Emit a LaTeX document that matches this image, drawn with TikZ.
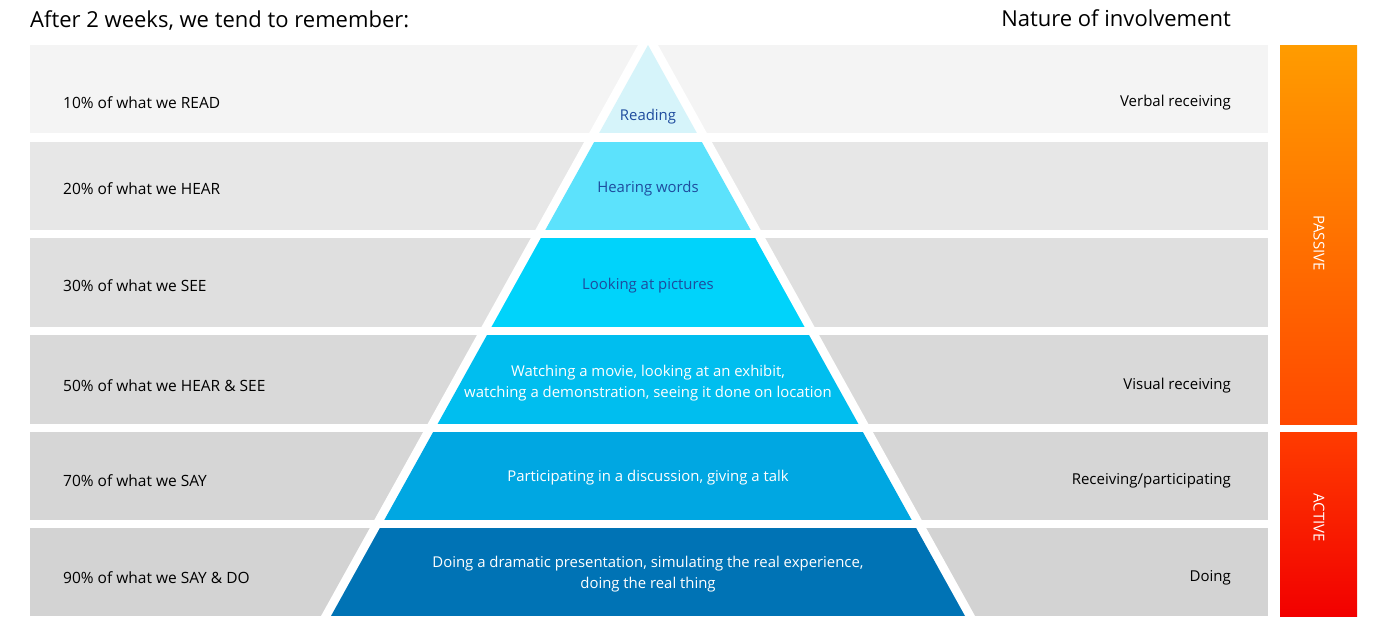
\documentclass[tikz,border=0pt]{standalone}
\usepackage{fontspec}
\setmainfont{Open Sans}
\usetikzlibrary{calc}
\definecolor{rowA}{HTML}{F4F4F4}
\definecolor{rowB}{HTML}{E7E7E7}
\definecolor{rowC}{HTML}{DFDFDF}
\definecolor{rowD}{HTML}{D9D9D9}
\definecolor{rowE}{HTML}{D6D6D6}
\definecolor{rowF}{HTML}{D3D3D3}
\definecolor{tierA}{HTML}{D6F4FA}
\definecolor{tierB}{HTML}{5CE2FC}
\definecolor{tierC}{HTML}{00D3FB}
\definecolor{tierD}{HTML}{00BEEF}
\definecolor{tierE}{HTML}{00A7E2}
\definecolor{tierF}{HTML}{0073B5}
\definecolor{darktext}{HTML}{1E4C9E}
\definecolor{passTop}{HTML}{FF9C00}
\definecolor{passMid}{HTML}{FF7800}
\definecolor{passBot}{HTML}{FF4800}
\definecolor{actTop}{HTML}{FF3C00}
\definecolor{actMid}{HTML}{F80000}
\definecolor{actBot}{HTML}{F20000}
\begin{document}
\begin{tikzpicture}[x=1pt,y=-1pt,
  label/.style={font=\fontsize{15.5}{19}\selectfont, text=black, inner sep=0pt},
  leftlab/.style={label, anchor=west},
  rightlab/.style={font=\fontsize{15}{19}\selectfont, text=black, inner sep=0pt, anchor=east},
  tiertext/.style={font=\fontsize{14.9}{20.5}\selectfont, inner sep=0pt, align=center},
  headline/.style={font=\fontsize{22}{26}\selectfont, text=black, inner sep=0pt},
  barlabel/.style={font=\fontsize{15}{18}\selectfont, text=white, inner sep=0pt, rotate=-90}]
\useasboundingbox (0,0) rectangle (1389,629);

% gray rows
\fill[rowA] (30,45)  rectangle (1268,133);
\fill[rowB] (30,142) rectangle (1268,230);
\fill[rowC] (30,238) rectangle (1268,327);
\fill[rowD] (30,335) rectangle (1268,424);
\fill[rowE] (30,432) rectangle (1268,520);
\fill[rowF] (30,528) rectangle (1268,616);

% white margin around the pyramid
\fill[white] (648,27) -- (975,616) -- (321,616) -- cycle;

% pyramid tiers
\begin{scope}
  \clip (648,45) -- (965,616) -- (331,616) -- cycle;
  \fill[tierA] (300,45)  rectangle (1000,133);
  \fill[tierB] (300,142) rectangle (1000,230);
  \fill[tierC] (300,238) rectangle (1000,327);
  \fill[tierD] (300,335) rectangle (1000,424);
  \fill[tierE] (300,432) rectangle (1000,520);
  \fill[tierF] (300,528) rectangle (1000,616);
\end{scope}

% involvement bars
\fill[top color=passTop, middle color=passMid, bottom color=passBot] (1280,45) rectangle (1357,424);
\fill[top color=actTop, middle color=actMid, bottom color=actBot] (1280,432) rectangle (1357,616);
\node[barlabel] (passive) at (1319,243) {PASSIVE};
\node[barlabel] (active) at (1319,518) {ACTIVE};

% headings
\node[headline, anchor=west] (head) at (30,21) {After 2 weeks, we tend to remember:};
\node[headline, anchor=east] (nature) at (1231,18) {Nature of involvement};

% retention labels
\node[leftlab] (l1) at (63,103) {10\% of what we READ};
\node[leftlab] (l2) at (63,189) {20\% of what we HEAR};
\node[leftlab] (l3) at (63,286) {30\% of what we SEE};
\node[leftlab] (l4) at (63,386) {50\% of what we HEAR \& SEE};
\node[leftlab] (l5) at (63,481) {70\% of what we SAY};
\node[leftlab] (l6) at (63,578) {90\% of what we SAY \& DO};

% involvement labels
\node[rightlab] (r1) at (1231,103) {Verbal receiving};
\node[rightlab] (r4) at (1231,386) {Visual receiving};
\node[rightlab] (r5) at (1231,481) {Receiving/participating};
\node[rightlab] (r6) at (1231,578) {Doing};

% tier texts
\node[tiertext, text=darktext] (t1) at (648,117) {Reading};
\node[tiertext, text=darktext] (t2) at (648,189) {Hearing words};
\node[tiertext, text=darktext] (t3) at (648,286) {Looking at pictures};
\node[tiertext, text=white] (t4) at (648,383) {Watching a movie, looking at an exhibit,\\watching a demonstration, seeing it done on location};
\node[tiertext, text=white] (t5) at (648,478) {Participating in a discussion, giving a talk};
\node[tiertext, text=white] (t6) at (648,574) {Doing a dramatic presentation, simulating the real experience,\\doing the real thing};
\end{tikzpicture}
\end{document}
